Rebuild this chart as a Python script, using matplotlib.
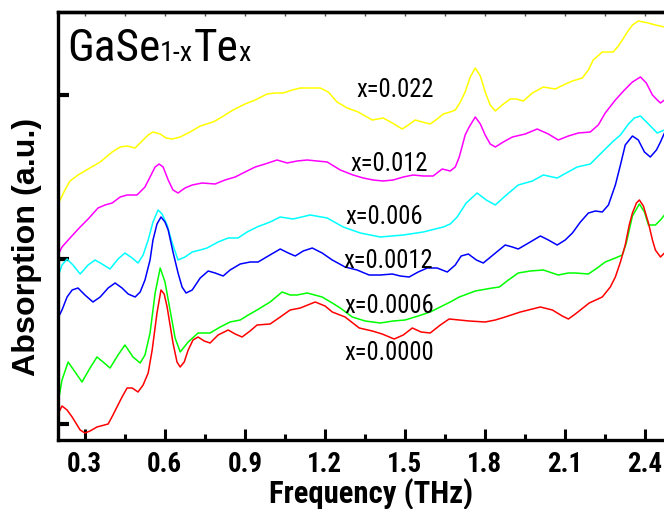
import matplotlib
matplotlib.use("Agg")
import matplotlib.pyplot as plt
from matplotlib import font_manager

# ---- THz absorption spectra of GaSe(1-x)Te(x) crystals (vertically offset) ----
freq_0000 = [0.200, 0.215, 0.234, 0.253, 0.283, 0.301, 0.320, 0.346, 0.388, 0.406, 0.421, 0.440, 0.459,
             0.478, 0.500, 0.519, 0.538, 0.553, 0.571, 0.586, 0.598, 0.609, 0.620, 0.631, 0.646, 0.658,
             0.673, 0.688, 0.706, 0.725, 0.748, 0.770, 0.800, 0.838, 0.864, 0.890, 0.920, 0.946, 0.995,
             1.033, 1.070, 1.108, 1.164, 1.201, 1.228, 1.276, 1.329, 1.378, 1.415, 1.460, 1.494, 1.528,
             1.561, 1.595, 1.633, 1.666, 1.704, 1.741, 1.801, 1.839, 1.876, 1.933, 2.008, 2.053, 2.090,
             2.113, 2.139, 2.191, 2.240, 2.270, 2.289, 2.308, 2.326, 2.341, 2.353, 2.368, 2.379, 2.394,
             2.413, 2.428, 2.439, 2.458, 2.473]
abs_0000 = [0.26, 0.34, 0.30, 0.23, 0.10, 0.07, 0.09, 0.13, 0.16, 0.25, 0.33, 0.43, 0.52,
            0.52, 0.48, 0.55, 0.67, 0.90, 1.27, 1.50, 1.46, 1.33, 1.15, 0.97, 0.78, 0.73,
            0.78, 0.90, 1.00, 1.03, 0.99, 0.97, 1.05, 1.10, 1.06, 1.03, 1.09, 1.15, 1.16,
            1.23, 1.30, 1.32, 1.38, 1.34, 1.28, 1.23, 1.12, 1.09, 1.06, 1.01, 1.05, 1.12,
            1.08, 1.07, 1.15, 1.21, 1.20, 1.19, 1.18, 1.20, 1.23, 1.28, 1.33, 1.30, 1.24,
            1.21, 1.26, 1.37, 1.43, 1.53, 1.63, 1.78, 1.95, 2.15, 2.27, 2.37, 2.40, 2.34,
            2.17, 2.00, 1.90, 1.83, 1.87]

freq_0006 = [0.200, 0.215, 0.238, 0.264, 0.290, 0.320, 0.346, 0.369, 0.395, 0.425, 0.451, 0.481, 0.508,
             0.526, 0.545, 0.564, 0.583, 0.601, 0.620, 0.639, 0.658, 0.688, 0.725, 0.770, 0.808, 0.845,
             0.883, 0.913, 0.946, 0.995, 1.040, 1.070, 1.096, 1.134, 1.190, 1.228, 1.258, 1.303, 1.351,
             1.408, 1.456, 1.501, 1.550, 1.595, 1.670, 1.704, 1.764, 1.828, 1.854, 1.888, 1.925, 1.970,
             2.019, 2.075, 2.113, 2.139, 2.188, 2.221, 2.251, 2.289, 2.315, 2.330, 2.353, 2.379, 2.398,
             2.413, 2.439, 2.458, 2.473]
abs_0006 = [0.37, 0.60, 0.78, 0.68, 0.58, 0.72, 0.83, 0.78, 0.72, 0.85, 0.95, 0.83, 0.77,
            0.85, 1.07, 1.47, 1.72, 1.58, 1.30, 1.02, 0.88, 0.98, 1.07, 1.07, 1.13, 1.18,
            1.20, 1.25, 1.30, 1.38, 1.48, 1.45, 1.45, 1.47, 1.43, 1.37, 1.32, 1.23, 1.19,
            1.17, 1.19, 1.20, 1.24, 1.28, 1.38, 1.43, 1.49, 1.52, 1.53, 1.60, 1.67, 1.69,
            1.70, 1.65, 1.67, 1.67, 1.66, 1.72, 1.78, 1.82, 1.85, 1.97, 2.24, 2.36, 2.28,
            2.15, 2.15, 2.20, 2.25]

freq_0012 = [0.200, 0.215, 0.234, 0.253, 0.275, 0.301, 0.331, 0.358, 0.388, 0.414, 0.440, 0.463, 0.489,
             0.508, 0.526, 0.545, 0.556, 0.571, 0.586, 0.601, 0.613, 0.631, 0.650, 0.665, 0.680, 0.703,
             0.733, 0.763, 0.789, 0.819, 0.845, 0.883, 0.920, 0.950, 0.988, 1.033, 1.063, 1.089, 1.119,
             1.153, 1.190, 1.228, 1.276, 1.321, 1.366, 1.408, 1.453, 1.483, 1.516, 1.550, 1.584, 1.621,
             1.659, 1.689, 1.711, 1.738, 1.768, 1.794, 1.835, 1.876, 1.903, 1.925, 1.970, 2.008, 2.038,
             2.071, 2.101, 2.128, 2.158, 2.188, 2.214, 2.240, 2.263, 2.289, 2.308, 2.326, 2.353, 2.375,
             2.398, 2.420, 2.443, 2.458, 2.473]
abs_0012 = [1.22, 1.30, 1.43, 1.50, 1.52, 1.45, 1.38, 1.43, 1.52, 1.57, 1.52, 1.46, 1.43,
            1.48, 1.60, 1.80, 2.00, 2.16, 2.23, 2.18, 2.10, 1.88, 1.67, 1.53, 1.47, 1.50,
            1.62, 1.69, 1.67, 1.64, 1.70, 1.76, 1.78, 1.78, 1.84, 1.91, 1.87, 1.84, 1.89,
            1.92, 1.87, 1.80, 1.73, 1.70, 1.65, 1.65, 1.66, 1.64, 1.63, 1.68, 1.72, 1.72,
            1.68, 1.75, 1.84, 1.86, 1.80, 1.77, 1.86, 1.95, 1.93, 1.91, 1.98, 2.04, 2.00,
            1.95, 2.00, 2.07, 2.18, 2.27, 2.29, 2.28, 2.35, 2.55, 2.75, 2.95, 3.04, 3.00,
            2.88, 2.83, 2.90, 2.98, 3.07]

freq_006 = [0.200, 0.215, 0.234, 0.256, 0.283, 0.313, 0.339, 0.365, 0.395, 0.425, 0.451, 0.478, 0.500,
            0.519, 0.538, 0.556, 0.575, 0.590, 0.609, 0.628, 0.650, 0.676, 0.703, 0.733, 0.759, 0.800,
            0.838, 0.875, 0.909, 0.946, 0.995, 1.033, 1.081, 1.145, 1.209, 1.269, 1.333, 1.408, 1.494,
            1.569, 1.644, 1.670, 1.696, 1.730, 1.771, 1.805, 1.839, 1.876, 1.925, 1.978, 2.019, 2.071,
            2.105, 2.146, 2.195, 2.240, 2.278, 2.308, 2.338, 2.360, 2.383, 2.413, 2.446, 2.473]
abs_006 = [1.63, 1.75, 1.81, 1.75, 1.66, 1.75, 1.80, 1.76, 1.71, 1.81, 1.87, 1.82, 1.77,
           1.85, 2.00, 2.18, 2.30, 2.26, 2.15, 1.97, 1.80, 1.83, 1.88, 1.90, 1.92, 1.98,
           2.02, 2.02, 2.08, 2.13, 2.18, 2.23, 2.21, 2.25, 2.22, 2.13, 2.07, 2.03, 2.05,
           2.08, 2.13, 2.16, 2.23, 2.37, 2.47, 2.40, 2.35, 2.44, 2.55, 2.59, 2.65, 2.62,
           2.67, 2.73, 2.76, 2.88, 2.98, 3.05, 3.16, 3.22, 3.24, 3.16, 3.07, 3.10]

freq_012 = [0.200, 0.215, 0.245, 0.283, 0.313, 0.350, 0.376, 0.403, 0.433, 0.459, 0.496, 0.526, 0.545,
            0.564, 0.579, 0.594, 0.613, 0.631, 0.650, 0.676, 0.703, 0.740, 0.789, 0.826, 0.864, 0.901,
            0.939, 0.976, 1.021, 1.059, 1.096, 1.134, 1.171, 1.209, 1.258, 1.306, 1.344, 1.381, 1.419,
            1.456, 1.494, 1.531, 1.569, 1.606, 1.640, 1.670, 1.689, 1.704, 1.726, 1.741, 1.764, 1.783,
            1.801, 1.820, 1.839, 1.869, 1.903, 1.951, 1.996, 2.038, 2.075, 2.113, 2.150, 2.195, 2.225,
            2.251, 2.289, 2.323, 2.353, 2.383, 2.405, 2.428, 2.446, 2.458, 2.473]
abs_012 = [1.85, 1.93, 2.02, 2.13, 2.21, 2.32, 2.35, 2.37, 2.43, 2.45, 2.45, 2.53, 2.63,
           2.73, 2.76, 2.73, 2.60, 2.50, 2.47, 2.52, 2.55, 2.57, 2.56, 2.60, 2.63, 2.68,
           2.73, 2.76, 2.80, 2.77, 2.79, 2.80, 2.79, 2.78, 2.70, 2.65, 2.62, 2.60, 2.59,
           2.60, 2.63, 2.65, 2.64, 2.64, 2.71, 2.69, 2.73, 2.83, 3.05, 3.13, 3.23, 3.16,
           3.05, 2.96, 2.93, 2.98, 3.03, 3.06, 3.11, 3.06, 3.00, 3.04, 3.07, 3.08, 3.15,
           3.27, 3.40, 3.50, 3.58, 3.63, 3.57, 3.45, 3.40, 3.37, 3.40]

freq_022 = [0.200, 0.208, 0.226, 0.245, 0.275, 0.313, 0.358, 0.403, 0.433, 0.459, 0.489, 0.519, 0.538,
            0.556, 0.583, 0.605, 0.628, 0.658, 0.695, 0.733, 0.781, 0.808, 0.856, 0.901, 0.939, 0.984,
            1.014, 1.044, 1.078, 1.108, 1.145, 1.183, 1.213, 1.246, 1.284, 1.325, 1.351, 1.378, 1.419,
            1.453, 1.490, 1.513, 1.539, 1.565, 1.595, 1.621, 1.644, 1.670, 1.689, 1.708, 1.726, 1.745,
            1.764, 1.783, 1.801, 1.820, 1.839, 1.865, 1.895, 1.918, 1.944, 1.978, 2.019, 2.041, 2.064,
            2.094, 2.128, 2.165, 2.188, 2.206, 2.240, 2.281, 2.300, 2.315, 2.334, 2.353, 2.375, 2.394,
            2.413, 2.439, 2.473]
abs_022 = [2.37, 2.40, 2.50, 2.59, 2.65, 2.71, 2.78, 2.88, 2.93, 2.94, 2.92, 3.00, 3.05,
           3.08, 3.06, 3.02, 3.01, 3.03, 3.08, 3.14, 3.18, 3.22, 3.30, 3.36, 3.40, 3.46,
           3.47, 3.47, 3.50, 3.52, 3.52, 3.52, 3.48, 3.38, 3.32, 3.28, 3.24, 3.20, 3.22,
           3.17, 3.11, 3.15, 3.20, 3.18, 3.16, 3.21, 3.26, 3.28, 3.30, 3.38, 3.48, 3.63,
           3.72, 3.64, 3.48, 3.35, 3.29, 3.35, 3.41, 3.41, 3.39, 3.47, 3.53, 3.52, 3.51,
           3.55, 3.59, 3.62, 3.70, 3.80, 3.88, 3.88, 3.94, 4.00, 4.08, 4.15, 4.19, 4.18,
           4.17, 4.15, 4.13]

series_labels = ["x=0.022", "x=0.012", "x=0.006", "x=0.0012", "x=0.0006", "x=0.0000"]
series_freq = [freq_022, freq_012, freq_006, freq_0012, freq_0006, freq_0000]
series_abs = [abs_022, abs_012, abs_006, abs_0012, abs_0006, abs_0000]
series_colors = ["#FFFF00", "#FF00FF", "#00FFFF", "#0000FF", "#00FF00", "#FF0000"]

x_major = [0.3, 0.6, 0.9, 1.2, 1.5, 1.8, 2.1, 2.4]
x_minor = [0.45, 0.75, 1.05, 1.35, 1.65, 1.95, 2.25]
y_major = [0.16, 1.81, 3.45]

# ---- fonts: narrow grotesque faces, with a real bold cut for the bold texts ----
_faces = [(f.name, f.weight) for f in font_manager.fontManager.ttflist]
_candidates = ["Liberation Sans Narrow", "Arial Narrow", "Roboto Condensed", "PT Sans Narrow",
               "Archivo Narrow", "Liberation Sans"]


def _pick(min_w, max_w):
    for name in _candidates:
        if any(n == name and min_w <= w <= max_w for n, w in _faces):
            return name
    return "DejaVu Sans"


NARROW = _pick(350, 500)
NARROW_BOLD = _pick(650, 800)
REGULAR = "Liberation Sans" if any(n == "Liberation Sans" for n, _ in _faces) else "DejaVu Sans"

W, H = 664, 509
fig = plt.figure(figsize=(W / 100, H / 100), dpi=100)
fig.canvas.draw()
renderer = fig.canvas.get_renderer()


def fitted_size(text, family, weight, width_px, rotation=0):
    """Font size (pt) at which `text` spans `width_px` pixels."""
    probe = fig.text(0, 0, text, fontsize=20, family=family, fontweight=weight, rotation=rotation)
    bb = probe.get_window_extent(renderer)
    span = bb.height if rotation else bb.width
    probe.remove()
    return 20 * width_px / span


ax = fig.add_axes([58 / W, 69 / H, 627 / W, 428 / H])

for fx, ay, col in zip(series_freq, series_abs, series_colors):
    ax.plot(fx, ay, color=col, lw=1.1, solid_joinstyle="round")

ax.set_xlim(0.2, 2.55)
ax.set_ylim(0, 4.28)

ax.set_xticks(x_major)
ax.set_xticks(x_minor, minor=True)
ax.set_xticklabels([f"{v:.1f}" for v in x_major])
ax.set_yticks(y_major)
ax.set_yticklabels([])

for sp in ax.spines.values():
    sp.set_linewidth(2.4)

tick_size = fitted_size("0.3", NARROW_BOLD, "bold", 35)
ax.tick_params(axis="x", which="major", direction="in", length=8, width=2.2, pad=8,
               labelsize=tick_size)
ax.tick_params(axis="x", which="minor", direction="in", length=4, width=2.2)
ax.tick_params(axis="y", which="major", direction="in", length=8, width=3)
for lab in ax.get_xticklabels():
    lab.set_fontfamily(NARROW_BOLD)
    lab.set_fontweight("bold")

top = ax.secondary_xaxis("top")
top.set_xticks(sorted(x_major + x_minor))
top.tick_params(direction="in", length=3, width=1.0, labeltop=False, color="#555555")
top.spines["top"].set_linewidth(2.4)

# axis titles
xl_size = fitted_size("Frequency (THz)", NARROW_BOLD, "bold", 204)
fig.text(371 / W, (H - 494) / H, "Frequency (THz)", ha="center", va="center",
         fontsize=xl_size, fontweight="bold", family=NARROW_BOLD)
yl_size = fitted_size("Absorption (a.u.)", REGULAR, "bold", 258, rotation=90)
fig.text(27 / W, (H - 247) / H, "Absorption (a.u.)", ha="center", va="center",
         rotation=90, fontsize=yl_size, fontweight="bold", family=REGULAR)

# curve labels (data coordinates, baseline anchored)
lab_size = fitted_size("x=0.0000", NARROW, "normal", 90)
label_anchor = [(1.3175, 3.43), (1.295, 2.69), (1.276, 2.16), (1.269, 1.72), (1.2725, 1.27), (1.2725, 0.80)]
for (lx, ly), txt in zip(label_anchor, series_labels):
    ax.text(lx, ly, txt, ha="left", va="baseline", fontsize=lab_size, family=NARROW, color="black")

# compound title GaSe1-xTex with small subscripts
big = fitted_size("GaSe", NARROW, "normal", 93)
small = big * 0.62
x_px, base_px = 67, H - 61
for piece, size in [("GaSe", big), ("1-x", small), ("Te", big), ("x", small)]:
    t = fig.text(x_px / W, base_px / H, piece, ha="left", va="baseline",
                 fontsize=size, family=NARROW, color="black")
    bb = t.get_window_extent(renderer)
    x_px = bb.x1

fig.savefig("out.png", dpi=100)
